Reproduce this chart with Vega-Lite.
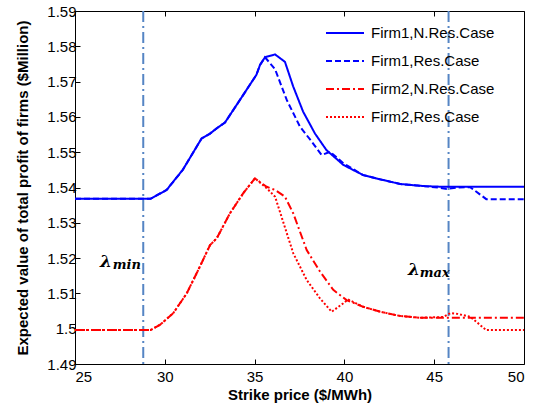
{
  "$schema": "https://vega.github.io/schema/vega-lite/v6.json",
  "width": 449,
  "height": 353,
  "autosize": "none",
  "padding": {"left": 75, "top": 11, "right": 10, "bottom": 45},
  "background": "white",
  "config": {
    "view": {"stroke": "black", "strokeWidth": 1},
    "font": "Liberation Sans",
    "axis": {"grid": false, "domain": false, "labelFont": "Liberation Sans", "labelFontSize": 15, "labelColor": "black", "titleFont": "Liberation Sans", "titleFontSize": 15, "titleFontWeight": "bold", "titleColor": "black", "tickColor": "black", "tickSize": -5, "tickWidth": 1, "labelPadding": 4, "labelOverlap": false}
  },
  "datasets": {
    "curves": [
      {"series": "Firm1,N.Res.Case", "x": 25, "y": 1.5368},
      {"series": "Firm1,N.Res.Case", "x": 29.2, "y": 1.5368},
      {"series": "Firm1,N.Res.Case", "x": 30.1, "y": 1.5393},
      {"series": "Firm1,N.Res.Case", "x": 31.0, "y": 1.545},
      {"series": "Firm1,N.Res.Case", "x": 32.05, "y": 1.5539},
      {"series": "Firm1,N.Res.Case", "x": 32.5, "y": 1.5552},
      {"series": "Firm1,N.Res.Case", "x": 32.9, "y": 1.5568},
      {"series": "Firm1,N.Res.Case", "x": 33.35, "y": 1.5584},
      {"series": "Firm1,N.Res.Case", "x": 34.0, "y": 1.5634},
      {"series": "Firm1,N.Res.Case", "x": 35.1, "y": 1.5719},
      {"series": "Firm1,N.Res.Case", "x": 35.3, "y": 1.5747},
      {"series": "Firm1,N.Res.Case", "x": 35.58, "y": 1.5769},
      {"series": "Firm1,N.Res.Case", "x": 36.14, "y": 1.5777},
      {"series": "Firm1,N.Res.Case", "x": 36.69, "y": 1.5756},
      {"series": "Firm1,N.Res.Case", "x": 37.15, "y": 1.5686},
      {"series": "Firm1,N.Res.Case", "x": 37.7, "y": 1.5615},
      {"series": "Firm1,N.Res.Case", "x": 38.36, "y": 1.5553},
      {"series": "Firm1,N.Res.Case", "x": 39.0, "y": 1.5506},
      {"series": "Firm1,N.Res.Case", "x": 39.94, "y": 1.5464},
      {"series": "Firm1,N.Res.Case", "x": 41.05, "y": 1.5435},
      {"series": "Firm1,N.Res.Case", "x": 42.0, "y": 1.5423},
      {"series": "Firm1,N.Res.Case", "x": 43.1, "y": 1.541},
      {"series": "Firm1,N.Res.Case", "x": 44.4, "y": 1.5404},
      {"series": "Firm1,N.Res.Case", "x": 45.5, "y": 1.5402},
      {"series": "Firm1,N.Res.Case", "x": 50, "y": 1.5402},

      {"series": "Firm1,Res.Case", "x": 25, "y": 1.5368},
      {"series": "Firm1,Res.Case", "x": 29.2, "y": 1.5368},
      {"series": "Firm1,Res.Case", "x": 30.1, "y": 1.5393},
      {"series": "Firm1,Res.Case", "x": 31.0, "y": 1.545},
      {"series": "Firm1,Res.Case", "x": 32.05, "y": 1.5539},
      {"series": "Firm1,Res.Case", "x": 32.5, "y": 1.5552},
      {"series": "Firm1,Res.Case", "x": 32.9, "y": 1.5568},
      {"series": "Firm1,Res.Case", "x": 33.35, "y": 1.5584},
      {"series": "Firm1,Res.Case", "x": 34.0, "y": 1.5634},
      {"series": "Firm1,Res.Case", "x": 35.1, "y": 1.5719},
      {"series": "Firm1,Res.Case", "x": 35.3, "y": 1.5747},
      {"series": "Firm1,Res.Case", "x": 35.58, "y": 1.5769},
      {"series": "Firm1,Res.Case", "x": 36.14, "y": 1.5735},
      {"series": "Firm1,Res.Case", "x": 36.79, "y": 1.5648},
      {"series": "Firm1,Res.Case", "x": 37.53, "y": 1.5572},
      {"series": "Firm1,Res.Case", "x": 38.18, "y": 1.553},
      {"series": "Firm1,Res.Case", "x": 38.73, "y": 1.5492},
      {"series": "Firm1,Res.Case", "x": 39.2, "y": 1.5501},
      {"series": "Firm1,Res.Case", "x": 39.94, "y": 1.5469},
      {"series": "Firm1,Res.Case", "x": 41.05, "y": 1.5435},
      {"series": "Firm1,Res.Case", "x": 42.0, "y": 1.5423},
      {"series": "Firm1,Res.Case", "x": 43.1, "y": 1.541},
      {"series": "Firm1,Res.Case", "x": 44.4, "y": 1.5404},
      {"series": "Firm1,Res.Case", "x": 45.2, "y": 1.54},
      {"series": "Firm1,Res.Case", "x": 45.7, "y": 1.5396},
      {"series": "Firm1,Res.Case", "x": 46.3, "y": 1.54},
      {"series": "Firm1,Res.Case", "x": 47.0, "y": 1.5401},
      {"series": "Firm1,Res.Case", "x": 47.9, "y": 1.5367},
      {"series": "Firm1,Res.Case", "x": 50, "y": 1.5367},

      {"series": "Firm2,N.Res.Case", "x": 25, "y": 1.4996},
      {"series": "Firm2,N.Res.Case", "x": 29.2, "y": 1.4996},
      {"series": "Firm2,N.Res.Case", "x": 29.73, "y": 1.5011},
      {"series": "Firm2,N.Res.Case", "x": 30.47, "y": 1.5044},
      {"series": "Firm2,N.Res.Case", "x": 31.22, "y": 1.51},
      {"series": "Firm2,N.Res.Case", "x": 31.86, "y": 1.5166},
      {"series": "Firm2,N.Res.Case", "x": 32.52, "y": 1.5237},
      {"series": "Firm2,N.Res.Case", "x": 32.89, "y": 1.5256},
      {"series": "Firm2,N.Res.Case", "x": 33.63, "y": 1.5327},
      {"series": "Firm2,N.Res.Case", "x": 34.37, "y": 1.5384},
      {"series": "Firm2,N.Res.Case", "x": 35.02, "y": 1.5426},
      {"series": "Firm2,N.Res.Case", "x": 35.67, "y": 1.5402},
      {"series": "Firm2,N.Res.Case", "x": 36.14, "y": 1.5393},
      {"series": "Firm2,N.Res.Case", "x": 36.69, "y": 1.5374},
      {"series": "Firm2,N.Res.Case", "x": 37.15, "y": 1.5327},
      {"series": "Firm2,N.Res.Case", "x": 37.9, "y": 1.5223},
      {"series": "Firm2,N.Res.Case", "x": 38.64, "y": 1.5162},
      {"series": "Firm2,N.Res.Case", "x": 39.38, "y": 1.511},
      {"series": "Firm2,N.Res.Case", "x": 40.12, "y": 1.5081},
      {"series": "Firm2,N.Res.Case", "x": 41.05, "y": 1.5062},
      {"series": "Firm2,N.Res.Case", "x": 42.0, "y": 1.5048},
      {"series": "Firm2,N.Res.Case", "x": 43.1, "y": 1.5036},
      {"series": "Firm2,N.Res.Case", "x": 44.2, "y": 1.5031},
      {"series": "Firm2,N.Res.Case", "x": 50, "y": 1.5031},

      {"series": "Firm2,Res.Case", "x": 25, "y": 1.4996},
      {"series": "Firm2,Res.Case", "x": 29.2, "y": 1.4996},
      {"series": "Firm2,Res.Case", "x": 29.73, "y": 1.5011},
      {"series": "Firm2,Res.Case", "x": 30.47, "y": 1.5044},
      {"series": "Firm2,Res.Case", "x": 31.22, "y": 1.51},
      {"series": "Firm2,Res.Case", "x": 31.86, "y": 1.5166},
      {"series": "Firm2,Res.Case", "x": 32.52, "y": 1.5237},
      {"series": "Firm2,Res.Case", "x": 32.89, "y": 1.5256},
      {"series": "Firm2,Res.Case", "x": 33.63, "y": 1.5327},
      {"series": "Firm2,Res.Case", "x": 34.37, "y": 1.5384},
      {"series": "Firm2,Res.Case", "x": 35.02, "y": 1.5426},
      {"series": "Firm2,Res.Case", "x": 35.67, "y": 1.5398},
      {"series": "Firm2,Res.Case", "x": 36.14, "y": 1.5374},
      {"series": "Firm2,Res.Case", "x": 36.5, "y": 1.5317},
      {"series": "Firm2,Res.Case", "x": 37.15, "y": 1.5214},
      {"series": "Firm2,Res.Case", "x": 37.9, "y": 1.5138},
      {"series": "Firm2,Res.Case", "x": 38.64, "y": 1.5086},
      {"series": "Firm2,Res.Case", "x": 39.29, "y": 1.5048},
      {"series": "Firm2,Res.Case", "x": 39.94, "y": 1.5072},
      {"series": "Firm2,Res.Case", "x": 40.2, "y": 1.5083},
      {"series": "Firm2,Res.Case", "x": 41.05, "y": 1.5062},
      {"series": "Firm2,Res.Case", "x": 42.0, "y": 1.5048},
      {"series": "Firm2,Res.Case", "x": 43.1, "y": 1.5036},
      {"series": "Firm2,Res.Case", "x": 44.2, "y": 1.5031},
      {"series": "Firm2,Res.Case", "x": 45.5, "y": 1.5033},
      {"series": "Firm2,Res.Case", "x": 45.9, "y": 1.5044},
      {"series": "Firm2,Res.Case", "x": 46.3, "y": 1.5042},
      {"series": "Firm2,Res.Case", "x": 47.0, "y": 1.5034},
      {"series": "Firm2,Res.Case", "x": 47.9, "y": 1.4996},
      {"series": "Firm2,Res.Case", "x": 50, "y": 1.4996}
    ],
    "lambdas": [
      {"name": "min", "x": 28.8},
      {"name": "max", "x": 45.8}
    ],
    "greek": [
      {"t": "λ", "x": 26.73, "y": 1.5189},
      {"t": "λ", "x": 43.87, "y": 1.5166}
    ],
    "subs": [
      {"t": "min", "x": 27.1, "y": 1.5181},
      {"t": "max", "x": 44.2, "y": 1.5158}
    ]
  },
  "layer": [
    {
      "data": {"name": "lambdas"},
      "mark": {"type": "rule", "color": "#5585C4", "strokeWidth": 2, "strokeDash": [11, 4, 2, 4]},
      "encoding": {
        "x": {"field": "x", "type": "quantitative", "scale": {"domain": [25, 50], "nice": false, "zero": false},
              "axis": {"orient": "top", "labels": false, "title": null, "values": [25, 30, 35, 40, 45, 50], "tickCount": 20}}
      }
    },
    {
      "data": {"name": "curves"},
      "mark": {"type": "line", "strokeWidth": 2, "clip": true},
      "encoding": {
        "x": {"field": "x", "type": "quantitative", "scale": {"domain": [25, 50], "nice": false, "zero": false},
              "axis": {"title": "Strike price ($/MWh)", "values": [25, 30, 35, 40, 45, 50], "tickCount": 20, "titlePadding": 3, "labelPadding": 10}},
        "y": {"field": "y", "type": "quantitative", "scale": {"domain": [1.49, 1.59], "nice": false, "zero": false},
              "axis": {"title": "Expected value of total profit of firms ($Million)", "titleFontSize": 15, "format": ".2~f", "values": [1.49, 1.5, 1.51, 1.52, 1.53, 1.54, 1.55, 1.56, 1.57, 1.58, 1.59], "tickCount": 30, "titlePadding": 16, "labelOverlap": false, "labelFlush": false}},
        "color": {"field": "series", "type": "nominal", "title": null,
                  "scale": {"domain": ["Firm1,N.Res.Case", "Firm1,Res.Case", "Firm2,N.Res.Case", "Firm2,Res.Case"], "range": ["#0000FF", "#0000FF", "#FF0000", "#FF0000"]},
                  "legend": {"orient": "none", "legendX": 250, "legendY": 2, "symbolSize": 1444, "symbolStrokeWidth": 2, "labelFontSize": 15, "labelFont": "Liberation Sans", "labelColor": "black", "rowPadding": -20, "labelOffset": 6}},
        "strokeDash": {"field": "series", "type": "nominal", "title": null,
                  "scale": {"domain": ["Firm1,N.Res.Case", "Firm1,Res.Case", "Firm2,N.Res.Case", "Firm2,Res.Case"], "range": [[1, 0], [6, 3], [8, 3, 2, 3], [2, 2]]}}
      }
    },
    {
      "data": {"name": "greek"},
      "mark": {"type": "text", "font": "DejaVu Serif", "fontSize": 17, "fontWeight": "bold", "fontStyle": "italic", "color": "black"},
      "encoding": {
        "x": {"field": "x", "type": "quantitative", "axis": null},
        "y": {"field": "y", "type": "quantitative", "axis": {"labelOverlap": false, "tickCount": 30}},
        "text": {"field": "t"}
      }
    },
    {
      "data": {"name": "subs"},
      "mark": {"type": "text", "font": "DejaVu Serif", "fontSize": 13, "fontWeight": "bold", "fontStyle": "italic", "color": "black", "align": "left"},
      "encoding": {
        "x": {"field": "x", "type": "quantitative", "axis": null},
        "y": {"field": "y", "type": "quantitative", "axis": {"labelOverlap": false, "tickCount": 30}},
        "text": {"field": "t"}
      }
    }
  ],
  "resolve": {"axis": {"x": "independent"}}
}
